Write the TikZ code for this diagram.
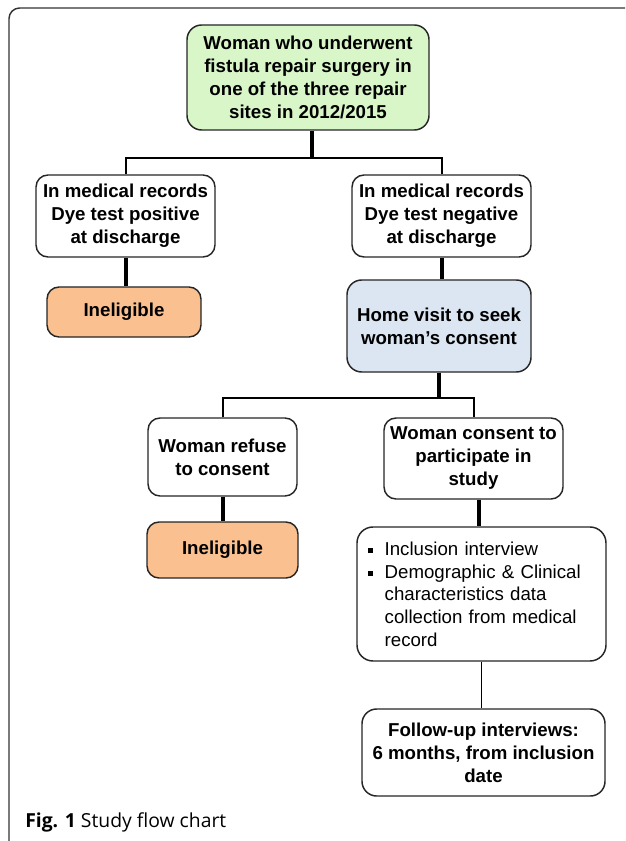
\documentclass[tikz,border=0pt]{standalone}
\usepackage{fontspec}
\setmainfont{Liberation Sans}
\newfontfamily\capfont{Open Sans}
\definecolor{boxgreen}{RGB}{216,246,200}
\definecolor{boxorange}{RGB}{250,192,144}
\definecolor{boxblue}{RGB}{220,230,242}
\newcommand{\sqbullet}{\raisebox{1.6pt}{\rule{4pt}{4pt}}}
\begin{document}
\begin{tikzpicture}[x=0.75pt,y=-0.75pt,
  box/.style={draw=black!85, line width=1.1pt, rounded corners=9pt, inner sep=0pt,
              align=center, font=\fontsize{14}{17.25}\selectfont\bfseries},
  thickline/.style={line width=3pt, black},
  busline/.style={line width=1.5pt, black},
  thinline/.style={line width=1.4pt, black}]
\useasboundingbox (0,0) rectangle (625,841);
\clip (0,0) rectangle (625,841);
\draw[line width=1.1pt, draw=black!80, rounded corners=8pt] (9,8) rectangle (680,880);

\node[box, fill=boxgreen, minimum width=181.5pt, minimum height=78.75pt, rounded corners=11pt] (top) at (308,77.5)
  {Woman who underwent\\fistula repair surgery in\\one of the three repair\\sites in 2012/2015};
\node[box, fill=white, minimum width=134.25pt, minimum height=61.5pt] (pos) at (125.5,216)
  {In medical records\\Dye test positive\\at discharge};
\node[box, fill=white, minimum width=134.25pt, minimum height=61.5pt] (neg) at (441.5,216)
  {In medical records\\Dye test negative\\at discharge};
\node[box, fill=boxorange, minimum width=115.5pt, minimum height=37.5pt] (inel1) at (124,312)
  {Ineligible};
\node[box, fill=boxblue, minimum width=138pt, minimum height=69pt, rounded corners=11pt] (home) at (439,326)
  {Home visit to seek\\woman’s consent};
\node[box, fill=white, minimum width=111.75pt, minimum height=58.5pt] (refuse) at (222.5,457)
  {Woman refuse\\to consent};
\node[box, fill=white, minimum width=134.25pt, minimum height=60.75pt] (consent) at (473.5,458.5)
  {Woman consent to\\participate in\\study};
\node[box, fill=boxorange, minimum width=113.25pt, minimum height=42pt] (inel2) at (222.5,550)
  {Ineligible};
\node[box, fill=white, minimum height=100.5pt, rounded corners=12pt, inner xsep=8.25pt,
      text width=170.25pt, align=left, font=\fontsize{14}{17}\selectfont] (incl) at (481.5,594)
  {\sqbullet\hspace{8.5pt}Inclusion interview\\
   \sqbullet\hspace{8.5pt}Demographic \& Clinical\\
   \hspace*{12.5pt}characteristics data\\
   \hspace*{12.5pt}collection from medical\\
   \hspace*{12.5pt}record};
\node[box, fill=white, minimum width=182.25pt, minimum height=65.25pt, rounded corners=11pt] (follow) at (483.5,752.5)
  {Follow-up interviews:\\6 months, from inclusion\\date};

\coordinate (b1) at (312,158);
\draw[thickline] (b1 |- top.south) -- (b1);
\draw[busline] (pos.north) |- (b1) -| (neg.north);
\draw[thickline] (pos.south) -- (pos.south |- inel1.north);
\draw[thickline] (neg.south) -- (neg.south |- home.north);

\coordinate (b2) at (439,398);
\draw[thickline] (home.south) -- (b2);
\draw[busline] (refuse.north) |- (b2) -| (consent.north);
\draw[thickline] (refuse.south) -- (inel2.north);
\draw[thickline] ([xshift=4.1pt]consent.south) -- ([xshift=4.1pt]consent.south |- incl.north);
\draw[thinline] (incl.south) -- (incl.south |- follow.north);

\node[anchor=base west, inner sep=0pt, font=\capfont\fontsize{14.5}{17}\selectfont] (cap) at (25,827)
  {\textbf{Fig. 1} Study flow chart};
\end{tikzpicture}
\end{document}
